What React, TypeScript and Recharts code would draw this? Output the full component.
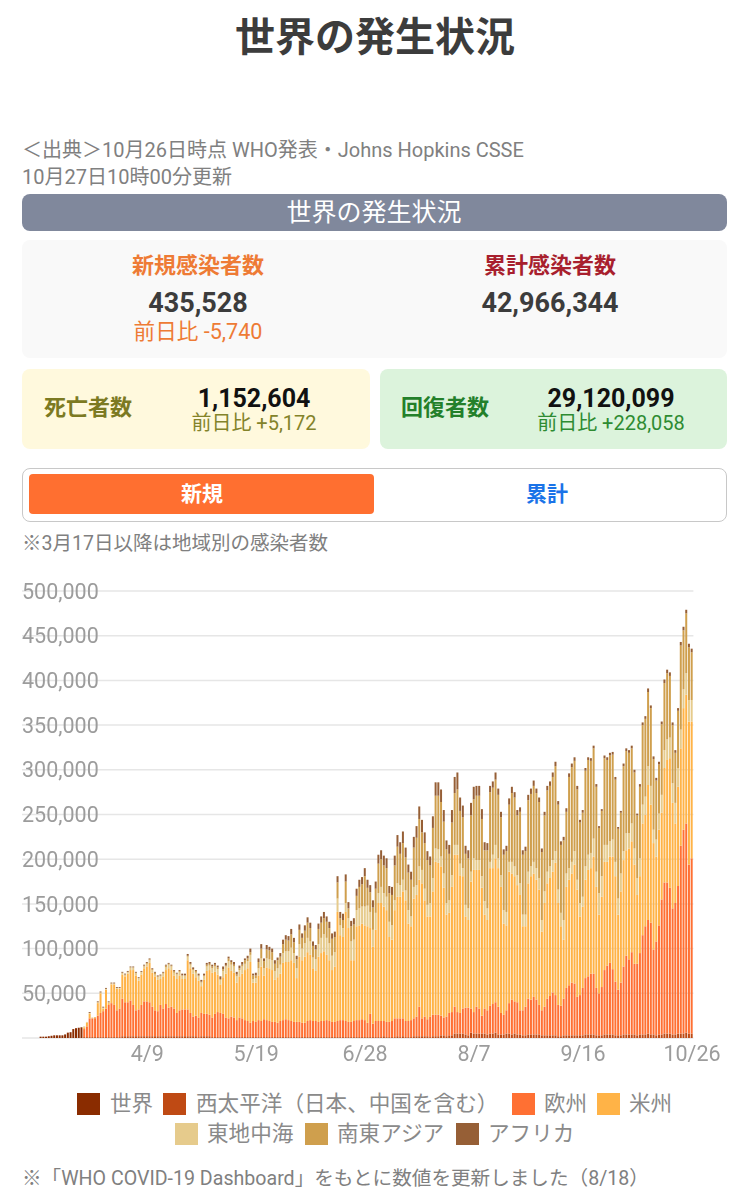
import { BarChart, Bar, XAxis, YAxis, CartesianGrid } from 'recharts'
import type { CSSProperties, ReactNode } from 'react'

// all band tops are in thousands
// 3/1 - 3/16: only a world figure
const WORLD = [1.5, 1.5, 1.5, 2, 2.5, 3, 3, 3, 3, 4, 6, 6.5, 10, 11, 11.5, 12]

// 3/17 onwards: height of the top of each band in the stack
const WPRO = [
  1, 1, 1, 1, 1, 1, 1, 1, 1, 1,
  1, 1, 1, 1, 2, 2, 2, 2, 2, 2,
  2, 2, 2, 2, 2, 2, 2, 2, 2, 2,
  2, 2, 2, 2, 2, 2, 2, 2, 2, 2,
  2, 2, 1, 2, 2, 2, 2, 1, 1, 1,
  1, 1, 1, 1, 1, 1, 1, 1, 1, 1,
  1, 1, 1, 1, 1, 1, 1, 1, 1, 1,
  1, 1, 1, 1, 1, 1, 1, 1, 1, 1,
  1, 1, 1, 1, 1, 1, 1, 1, 1, 1,
  1, 1, 1, 1, 1, 1, 1, 1, 1, 1,
  1, 1, 1, 1, 1, 1, 1, 1, 1, 1,
  2, 1, 1, 1, 1, 2, 1, 2, 1, 1,
  1, 2, 2, 2, 2, 2, 2, 1, 2, 2,
  2, 3, 3, 2, 3, 3, 5, 5, 5, 5,
  4, 3, 6, 5, 5, 5, 5, 5, 4, 5,
  5, 6, 4, 4, 4, 5, 5, 4, 5, 4,
  4, 3, 3, 4, 4, 4, 4, 4, 3, 3,
  3, 3, 3, 3, 2, 2, 3, 3, 3, 3,
  3, 3, 3, 3, 4, 4, 4, 4, 3, 3,
  3, 4, 4, 4, 4, 3, 3, 3, 4, 4,
  4, 4, 4, 3, 4, 4, 4, 5, 4, 4,
  3, 4, 4, 5, 5, 5, 4, 4, 5, 5,
  5, 6, 5, 5,
]

const EURO_TOP = [
  10, 13, 22, 22, 23, 25, 28, 30, 33, 37,
  39, 37, 31, 33, 44, 40, 40, 42, 37, 31,
  32, 37, 41, 41, 40, 35, 31, 30, 37, 33,
  38, 34, 35, 33, 28, 31, 32, 32, 32, 28,
  24, 25, 23, 28, 27, 27, 26, 23, 27, 29,
  28, 27, 23, 22, 24, 23, 20, 23, 22, 20,
  19, 17, 19, 18, 20, 19, 21, 20, 19, 18,
  18, 17, 19, 20, 21, 20, 19, 18, 18, 18,
  17, 17, 19, 20, 19, 19, 18, 19, 19, 20,
  19, 18, 18, 19, 20, 20, 19, 18, 18, 19,
  20, 20, 21, 20, 17, 27, 16, 19, 19, 19,
  19, 18, 18, 19, 22, 22, 22, 22, 19, 19,
  20, 22, 24, 35, 22, 24, 21, 24, 26, 26,
  26, 25, 23, 24, 28, 29, 35, 29, 28, 33,
  34, 34, 33, 29, 35, 33, 25, 33, 31, 36,
  38, 40, 35, 28, 26, 31, 39, 43, 41, 40,
  31, 31, 35, 44, 43, 46, 43, 37, 31, 35,
  44, 47, 51, 48, 37, 36, 44, 56, 59, 62,
  61, 46, 48, 56, 67, 69, 72, 72, 56, 50,
  57, 76, 81, 84, 77, 63, 54, 62, 80, 92,
  88, 96, 83, 83, 95, 115, 125, 132, 129, 99,
  108, 126, 155, 174, 174, 168, 145, 151, 170, 215,
  233, 240, 194, 201,
]

const AMRO_TOP = [
  12, 17, 27, 22, 22, 39, 50, 33, 54, 39,
  60, 60, 55, 55, 71, 69, 72, 76, 76, 70,
  64, 71, 78, 80, 84, 73, 69, 65, 66, 69,
  76, 78, 76, 70, 66, 70, 66, 66, 87, 78,
  72, 68, 64, 58, 65, 75, 76, 73, 74, 71,
  60, 68, 72, 79, 75, 73, 62, 69, 72, 76,
  78, 85, 62,
  62, 70, 80, 70, 79, 78, 76, 65, 68, 72,
  84, 85, 85, 87, 84, 67, 91, 87, 91, 96,
  93, 78, 75, 91, 95, 97, 93, 87, 76, 80,
  141, 115, 113, 141, 123, 87, 87, 125, 126, 128, 126,
  125, 123, 102, 121, 151, 151, 147, 143, 113, 110,
  143, 158, 158, 164, 154, 128, 125, 156, 160, 177,
  173, 154, 136, 136, 164, 197, 196, 192, 168, 138,
  140, 169, 205, 205, 182, 181, 136, 132, 175, 188,
  188, 188, 168, 138, 132, 190, 190, 201, 190, 169,
  128, 126, 186, 184, 181, 171, 160, 125, 125, 173,
  181, 184, 177, 166, 119, 151, 173, 179, 186, 196,
  151, 125, 110, 169, 177, 184, 194, 166, 136, 147,
  177, 188, 190, 203, 169, 138, 158, 197, 197, 203,
  203, 181, 138, 164, 199, 210, 212, 220, 194, 160,
  181, 240, 250, 283, 261, 218, 203, 233, 252, 302,
  311, 313, 263, 240, 281, 324, 369, 384, 354, 354,
]

const EMRO_TOP = [
  13, 18, 28, 23, 23, 40, 51, 34, 55, 40,
  61, 61, 56, 56, 73, 71, 74, 79, 79, 73,
  67, 74, 80, 83, 87, 76, 71, 68, 69, 72,
  79, 82, 80, 73, 71, 74, 70, 70, 91, 82,
  76, 73, 69, 62, 69, 80, 81, 78, 80, 77,
  65, 75, 80, 86, 82, 80, 69, 76, 80, 83,
  86, 93, 66,
  67, 78, 89, 78, 89, 88, 87, 75, 78, 82,
  95, 97, 97, 101, 95, 78, 105, 100, 106, 112,
  108, 90, 88, 105, 112, 116, 112, 106, 92, 96,
  156, 126, 123, 151, 134, 108, 110, 143, 145, 147, 147,
  148, 141, 121, 140, 162, 169, 162, 158, 130, 126,
  154, 173, 171, 177, 165, 143, 136, 169, 171, 192,
  188, 167, 149, 151, 179, 212, 211, 203, 184, 151,
  154, 182, 216, 216, 195, 190, 149, 145, 186, 201,
  199, 199, 181, 153, 145, 197, 205, 216, 201, 182,
  143, 141, 197, 197, 192, 182, 173, 138, 138, 186,
  192, 197, 190, 179, 132, 164, 186, 192, 199, 209,
  166, 140, 132, 184, 190, 197, 209, 177, 151, 158,
  192, 205, 207, 223, 186, 162, 181, 216, 216, 220,
  222, 197, 156, 184, 209, 229, 229, 240, 212, 179,
  201, 261, 270, 304, 282, 233, 222, 251, 272, 322,
  334, 336, 285, 263, 302, 345, 390, 408, 378, 378,
]

const TOTAL = [
  13, 18, 28, 23, 23, 40, 52, 35, 56, 41,
  62, 62, 57, 57, 74, 72, 75, 80, 80, 74,
  68, 75, 82, 85, 89, 78, 74, 70, 71, 74,
  82, 84, 82, 76, 73, 76, 72, 72, 94, 85,
  79, 76, 72, 65, 72, 84, 85, 82, 84, 81,
  69, 80, 84, 91, 87, 85, 74, 81, 85, 89,
  92, 100, 72, 73, 89, 105, 89, 104, 102, 100,
  87, 90, 95, 110, 115, 114, 122, 112, 92, 127,
  117, 126, 135, 129, 108, 104, 128, 136, 141, 136,
  130, 117, 119, 181, 141, 139, 183, 152, 131, 134,
  167, 177, 180, 190, 177, 171, 154, 175, 205, 210,
  204, 201, 170, 169, 204, 227, 219, 231, 213, 194,
  186, 225, 237, 259, 244, 230, 209, 203, 248, 286,
  286, 278, 255, 221, 216, 255, 292, 297, 269, 260,
  215, 210, 263, 281, 282, 282, 256, 219, 218, 282,
  287, 297, 279, 253, 211, 215, 268, 281, 275, 255,
  258, 210, 214, 272, 279, 288, 279, 269, 212, 253,
  282, 287, 297, 309, 265, 220, 225, 257, 296, 307,
  314, 282, 244, 255, 302, 314, 313, 327, 284, 237,
  256, 316, 314, 319, 320, 292, 236, 254, 307, 324,
  322, 327, 300, 251, 284, 353, 360, 391, 372, 315,
  291, 309, 354, 401, 412, 409, 353, 322, 369, 443,
  460, 479, 441, 435.5,
]

// size of the brown cap on each bar
const AFRO = [
  0, 0, 1, 0, 0, 1, 1, 1, 1, 1,
  1, 1, 1, 1, 1, 1, 1, 1, 1, 1,
  1, 1, 1, 1, 1,
  1, 1, 1, 1, 1, 1, 1, 1, 1, 1,
  1, 2, 2, 2, 2, 2, 1, 2, 2, 2,
  2, 2, 2, 2, 2, 3, 3, 3, 2, 2,
  3, 3, 3, 3, 2, 3, 4, 2,
  3, 4, 5, 3, 5, 4, 4, 4, 3, 4,
  5, 5, 5, 6, 5, 4, 6, 5, 6, 6,
  6, 5, 5, 6, 7, 7, 6, 7, 6, 6,
  7, 7, 7, 8, 7, 6, 7, 8, 8, 8, 9,
  9, 8, 8, 8, 10, 10, 11, 11, 8, 9,
  11, 13, 13, 13, 11, 9, 9, 12, 13, 14,
  14, 12, 10, 10, 13, 15, 15, 14, 13, 10,
  10, 14, 18, 19, 15, 13, 9, 9, 14, 14,
  11, 11, 11, 9,
  8, 7, 7, 8, 7, 6, 6, 6, 7, 7,
  6, 6, 5, 5, 5, 6, 6, 6, 5, 5,
  4, 4, 5, 5, 5, 5, 4, 4, 4, 4,
  4, 4, 4, 4, 3, 3, 3, 3, 3, 3,
  3, 2, 2, 3, 3, 3, 3, 3, 2, 2,
  3, 3, 3, 3, 3, 2, 3, 3, 3, 4,
  3, 3, 3, 3, 3, 4, 4, 4, 3, 3,
  3, 4, 4, 4, 4, 4,
]

const Y_TICKS = [50000, 100000, 150000, 200000, 250000, 300000, 350000, 400000, 450000, 500000]
const X_TICKS = ['4/9', '5/19', '6/28', '8/7', '9/16', '10/26']

const COLORS = {
  world: '#8a2c00',
  wpro: '#bf4a14',
  euro: '#ff7033',
  amro: '#ffb347',
  emro: '#e6cb8c',
  searo: '#cf9f4d',
  afro: '#965f36',
}

const LEGEND_ROW_1 = [
  { name: '世界', color: COLORS.world, box: 77, text: 110 },
  { name: '西太平洋（日本、中国を含む）', color: COLORS.wpro, box: 163, text: 196 },
  { name: '欧州', color: COLORS.euro, box: 512, text: 544 },
  { name: '米州', color: COLORS.amro, box: 597, text: 629 },
]
const LEGEND_ROW_2 = [
  { name: '東地中海', color: COLORS.emro, box: 175, text: 207 },
  { name: '南東アジア', color: COLORS.searo, box: 305, text: 337 },
  { name: 'アフリカ', color: COLORS.afro, box: 456, text: 488 },
]

function buildDates() {
  const out: string[] = []
  const d = new Date(2020, 2, 1)
  for (let i = 0; i < WORLD.length + TOTAL.length; i++) {
    out.push(`${d.getMonth() + 1}/${d.getDate()}`)
    d.setDate(d.getDate() + 1)
  }
  return out
}

const data = buildDates().map((date, i) => {
  if (i < WORLD.length) return { date, world: WORLD[i] * 1000 }
  const j = i - WORLD.length
  const searoTop = TOTAL[j] - AFRO[j]
  return {
    date,
    wpro: WPRO[j] * 1000,
    euro: (EURO_TOP[j] - WPRO[j]) * 1000,
    amro: (AMRO_TOP[j] - EURO_TOP[j]) * 1000,
    emro: (EMRO_TOP[j] - AMRO_TOP[j]) * 1000,
    searo: Math.max(0, searoTop - EMRO_TOP[j]) * 1000,
    afro: AFRO[j] * 1000,
  }
})

const FONT = "Roboto, 'Noto Sans CJK JP', sans-serif"

// absolute text, y is the vertical middle; x is the centre, or the left edge with left set
function T({ x, y, size, color, bold, left, children }: {
  x: number; y: number; size: number; color: string; bold?: boolean; left?: boolean; children: ReactNode
}) {
  const style: CSSProperties = {
    position: 'absolute', left: x, top: y, fontSize: size, color, lineHeight: 1,
    fontWeight: bold ? 700 : 400, whiteSpace: 'nowrap',
    transform: left ? 'translateY(-50%)' : 'translate(-50%,-50%)',
  }
  return <div style={style}>{children}</div>
}

function Box({ x, y, w, h, bg, r = 8, border }: {
  x: number; y: number; w: number; h: number; bg: string; r?: number; border?: string
}) {
  return (
    <div style={{
      position: 'absolute', left: x, top: y, width: w, height: h, background: bg,
      borderRadius: r, border, boxSizing: 'border-box',
    }} />
  )
}

function LegendRow({ items, y }: { items: typeof LEGEND_ROW_1; y: number }) {
  return (
    <>
      {items.map(it => (
        <div key={it.name}>
          <Box x={it.box} y={y - 11} w={23} h={22} bg={it.color} r={0} />
          <T x={it.text} y={y} size={21.6} color="#8a8a8a" left>{it.name}</T>
        </div>
      ))}
    </>
  )
}

export default function App() {
  return (
    <div style={{
      position: 'absolute', left: 0, top: 0, width: 744, height: 1200, overflow: 'hidden',
      background: '#fff', fontFamily: FONT,
    }}>
      <T x={375} y={38} size={40} color="#3c3c3c" bold>世界の発生状況</T>

      <T x={22} y={150} size={20} color="#808080" left>＜出典＞10月26日時点 WHO発表・Johns Hopkins CSSE</T>
      <T x={22} y={177} size={20} color="#808080" left>10月27日10時00分更新</T>

      <Box x={22} y={194} w={705} h={37} bg="#80889c" />
      <T x={374} y={212} size={25} color="#fff">世界の発生状況</T>

      <Box x={22} y={240} w={705} h={118} bg="#f9f9f9" />
      <T x={198} y={266} size={22} color="#ee7b35" bold>新規感染者数</T>
      <T x={550} y={266} size={22} color="#a81f2e" bold>累計感染者数</T>
      <T x={198} y={303} size={27} color="#3c3c3c" bold>435,528</T>
      <T x={550} y={303} size={27} color="#3c3c3c" bold>42,966,344</T>
      <T x={198} y={332} size={21.6} color="#ee7b35">前日比 -5,740</T>

      <Box x={22} y={369} w={348} h={80} bg="#fff9dd" />
      <T x={44} y={408} size={22} color="#7c7a22" bold left>死亡者数</T>
      <T x={254} y={398} size={25} color="#111" bold>1,152,604</T>
      <T x={254} y={423} size={20} color="#83832a">前日比 +5,172</T>

      <Box x={380} y={369} w={347} h={80} bg="#dcf3dc" />
      <T x={401} y={408} size={22} color="#23802a" bold left>回復者数</T>
      <T x={611} y={398} size={25} color="#111" bold>29,120,099</T>
      <T x={611} y={423} size={20} color="#2e8b32">前日比 +228,058</T>

      <Box x={22} y={468} w={705} h={54} bg="#fff" border="1.5px solid #c8c8c8" />
      <Box x={29} y={474} w={345} h={40} bg="#ff6f30" r={4} />
      <T x={202} y={494} size={21} color="#fff" bold>新規</T>
      <T x={547} y={494} size={21} color="#1a73e8" bold>累計</T>

      <T x={22} y={544} size={19.5} color="#808080" left>※3月17日以降は地域別の感染者数</T>

      {/* the reference is a soft screenshot, a light blur stops the thin bars from aliasing */}
      <div style={{ position: 'absolute', left: 0, top: 570, filter: 'blur(0.55px)' }}>
        <BarChart
          width={744}
          height={510}
          data={data}
          margin={{ top: 21, right: 50.6, bottom: 0, left: 22 }}
          barSize={2}
        >
          <CartesianGrid vertical={false} stroke="#e6e6e6" strokeWidth={1.5} />
          <XAxis
            dataKey="date"
            ticks={X_TICKS}
            interval={0}
            height={42}
            padding={{ left: 17.6, right: 0 }}
            tick={{ fill: '#9c9c9c', fontSize: 21.5, fontFamily: FONT }}
            tickLine={false}
            axisLine={false}
          />
          <YAxis
            domain={[0, 500000]}
            ticks={Y_TICKS}
            interval={0}
            width={80}
            mirror
            tickSize={0}
            tickMargin={0}
            tickFormatter={(v: number) => v.toLocaleString('en-US')}
            tick={{ fill: '#9c9c9c', fontSize: 21.5, fontFamily: FONT }}
            tickLine={false}
            axisLine={false}
          />
          <Bar dataKey="world" stackId="a" fill={COLORS.world} isAnimationActive={false} />
          <Bar dataKey="wpro" stackId="a" fill={COLORS.wpro} isAnimationActive={false} />
          <Bar dataKey="euro" stackId="a" fill={COLORS.euro} isAnimationActive={false} />
          <Bar dataKey="amro" stackId="a" fill={COLORS.amro} isAnimationActive={false} />
          <Bar dataKey="emro" stackId="a" fill={COLORS.emro} isAnimationActive={false} />
          <Bar dataKey="searo" stackId="a" fill={COLORS.searo} isAnimationActive={false} />
          <Bar dataKey="afro" stackId="a" fill={COLORS.afro} isAnimationActive={false} />
        </BarChart>
      </div>

      <LegendRow items={LEGEND_ROW_1} y={1104} />
      <LegendRow items={LEGEND_ROW_2} y={1134} />

      <T x={22} y={1179} size={19.6} color="#808080" left>※「WHO COVID-19 Dashboard」をもとに数値を更新しました（8/18）</T>
    </div>
  )
}
